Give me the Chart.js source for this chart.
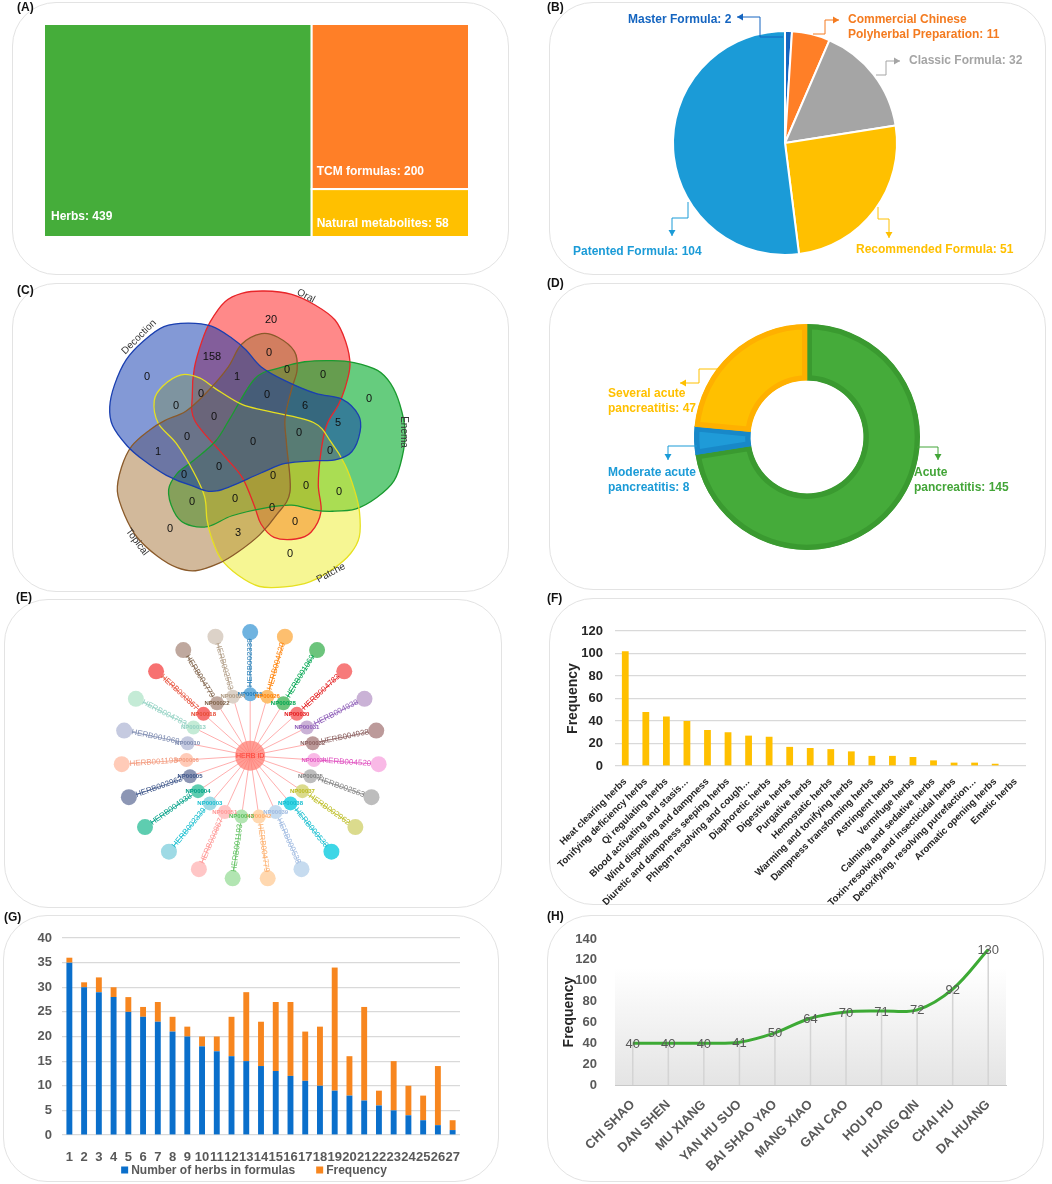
<!DOCTYPE html>
<html><head><meta charset="utf-8">
<script src="https://cdn.jsdelivr.net/npm/chart.js@4.4.1/dist/chart.umd.min.js"></script>
<style>
html,body{margin:0;padding:0;background:#fff;width:1052px;height:1184px;overflow:hidden;font-family:"Liberation Sans",Arial,sans-serif;}
.box{position:absolute;border:1.5px solid #E3E3E3;border-radius:44px;box-sizing:border-box;}
.tag{position:absolute;font:bold 12px "Liberation Sans",Arial,sans-serif;color:#111;line-height:14px;}
canvas{position:absolute;}
</style></head><body>
<script>
// ================= DATA =================
const treemapLabels = ['Herbs', 'TCM formulas', 'Natural metabolites'];
const treemapValues = [439, 200, 58];

const formulaTypes = ['Master Formula', 'Commercial Chinese Polyherbal Preparation', 'Classic Formula', 'Recommended Formula', 'Patented Formula'];
const formulaCounts = [2, 11, 32, 51, 104];

const vennSets = ['Oral', 'Enema', 'Patche', 'Topical', 'Decoction'];
const vennCounts = [20, 158, 0, 0, 0, 0, 1, 0, 0, 0, 6, 0, 5, 0, 0, 0, 0, 1, 0, 0, 0, 0, 0, 0, 0, 0, 0, 0, 0, 3, 0];

const severityLabels = ['Acute pancreatitis', 'Moderate acute pancreatitis', 'Several acute pancreatitis'];
const severityCounts = [145, 8, 47];

const networkHub = 'HERB ID';
const networkNP = ['NP00015','NP00026','NP00028','NP00030','NP00031','NP00032','NP00034','NP00035','NP00037','NP00038','NP00039','NP00042','NP00043','NP00051','NP00003','NP00004','NP00005','NP00006','NP00010','NP00013','NP00018','NP00022','NP00024'];
const networkHerbs = ['HERB002339','HERB004520','HERB001069','HERB004783','HERB004938','HERB004938','HERB004520','HERB002563','HERB002962','HERB000538','HERB000538','HERB004779','HERB001193','HERB000867','HERB002339','HERB004938','HERB002962','HERB001193','HERB001069','HERB004783','HERB000867','HERB004779','HERB002563'];

const herbCategories = ['Heat clearing herbs','Tonifying deficiency herbs','Qi regulating herbs','Blood activating and stasis\u2026','Wind dispelling and dampness','Diuretic and dampness seeping herbs','Phlegm resolving and cough\u2026','Diaphoretic herbs','Digestive herbs','Purgative herbs','Hemostatic herbs','Warming and tonifying herbs','Dampness transforming herbs','Astringent herbs','Vermifuge herbs','Calming and sedative herbs','Toxin-resolving and insecticidal herbs','Detoxifying, resolving putrefaction\u2026','Aromatic opening herbs','Emetic herbs'];
const herbCategoryFreq = [102, 48, 44, 40, 32, 30, 27, 26, 17, 16, 15, 13, 9, 9, 8, 5, 3, 3, 2, 0];

const herbCountLabels = ['1','2','3','4','5','6','7','8','9','10','11','12','13','14','15','16','17','18','19','20','21','22','23','24','25','26','27'];
const herbsInFormula = [35, 30, 29, 28, 25, 24, 23, 21, 20, 18, 17, 16, 15, 14, 13, 12, 11, 10, 9, 8, 7, 6, 5, 4, 3, 2, 1];
const formulaFrequency = [1, 1, 3, 2, 3, 2, 4, 3, 2, 2, 3, 8, 14, 9, 14, 15, 10, 12, 25, 8, 19, 3, 10, 6, 5, 12, 2];

const topHerbs = ['CHI SHAO','DAN SHEN','MU XIANG','YAN HU SUO','BAI SHAO YAO','MANG XIAO','GAN CAO','HOU PO','HUANG QIN','CHAI HU','DA HUANG'];
const topHerbFreq = [40, 40, 40, 41, 50, 64, 70, 71, 72, 92, 130];

// ================= LAYOUT / STYLE =================
const FONT = '"Liberation Sans", Arial, sans-serif';
Chart.defaults.font.family = FONT;
Chart.defaults.animation = false;
Chart.defaults.responsive = false;
Chart.defaults.plugins.legend.display = false;
Chart.defaults.plugins.tooltip.enabled = false;

const PANELS = {
  A:{l:12,t:2,w:497,h:273}, B:{l:549,t:2,w:497,h:273},
  C:{l:12,t:283,w:497,h:309}, D:{l:549,t:283,w:497,h:307},
  E:{l:4,t:599,w:498,h:309}, F:{l:549,t:598,w:497,h:307},
  G:{l:3,t:915,w:496,h:267}, H:{l:547,t:915,w:497,h:267}
};
const TAGS = {A:[17,0],B:[547,0],C:[17,283],D:[547,276],E:[16,590],F:[547,591],G:[4,910],H:[547,909]};

function makeCanvas(p){
  const b=document.createElement('div'); b.className='box';
  b.style.cssText=`left:${p.l}px;top:${p.t}px;width:${p.w}px;height:${p.h}px`;
  document.body.appendChild(b);
  const c=document.createElement('canvas'); c.width=p.w; c.height=p.h;
  c.style.cssText=`left:${p.l}px;top:${p.t}px;width:${p.w}px;height:${p.h}px`;
  document.body.appendChild(c); return c;
}
function font(sz,bold){return (bold?'bold ':'')+sz+'px '+FONT;}
function arrowPath(ctx, pts, color){
  ctx.save(); ctx.strokeStyle=color; ctx.fillStyle=color; ctx.lineWidth=1;
  ctx.beginPath(); ctx.moveTo(pts[0][0],pts[0][1]);
  for(let i=1;i<pts.length;i++) ctx.lineTo(pts[i][0],pts[i][1]);
  ctx.stroke();
  const [x1,y1]=pts[pts.length-2],[x2,y2]=pts[pts.length-1];
  const ang=Math.atan2(y2-y1,x2-x1), L=6, W=3.5;
  ctx.beginPath(); ctx.moveTo(x2,y2);
  ctx.lineTo(x2-L*Math.cos(ang)+W*Math.sin(ang), y2-L*Math.sin(ang)-W*Math.cos(ang));
  ctx.lineTo(x2-L*Math.cos(ang)-W*Math.sin(ang), y2-L*Math.sin(ang)+W*Math.cos(ang));
  ctx.closePath(); ctx.fill(); ctx.restore();
}
function splitLabel(text, n){
  if(!n) return [text];
  const w=text.split(' '); return [w.slice(0,n).join(' '), w.slice(n).join(' ')];
}

// ---------- (A) treemap ----------
const treemapColors = ['#45AD3A','#FF7F27','#FFC000'];
const treemapPlugin = {id:'treemap', afterDatasetsDraw(chart){
  const {ctx, scales:{x,y}} = chart;
  const v=treemapValues, total=v[0]+v[1]+v[2], col=v[1]+v[2];
  const rects=[
    {x0:0,x1:v[0],y0:0,y1:1, off:[7,20]},
    {x0:v[0],x1:total,y0:v[2]/col,y1:1, off:[5,17]},
    {x0:v[0],x1:total,y0:0,y1:v[2]/col, off:[5,13]}
  ];
  ctx.save();
  rects.forEach((r,i)=>{
    const L=x.getPixelForValue(r.x0), R=x.getPixelForValue(r.x1), T=y.getPixelForValue(r.y1), B=y.getPixelForValue(r.y0);
    ctx.fillStyle=treemapColors[i]; ctx.fillRect(L,T,R-L,B-T);
    ctx.strokeStyle='#fff'; ctx.lineWidth=2; ctx.strokeRect(L,T,R-L,B-T);
    ctx.fillStyle='#fff'; ctx.font=font(12,true); ctx.textBaseline='middle'; ctx.textAlign='left';
    ctx.fillText(treemapLabels[i]+': '+treemapValues[i], L+r.off[0], B-r.off[1]);
  });
  ctx.restore();
}};
new Chart(makeCanvas(PANELS.A), {type:'scatter', data:{datasets:[]},
  options:{layout:{padding:{left:32,top:22,right:40,bottom:38}},
    scales:{x:{type:'linear',display:false,min:0,max:treemapValues.reduce((a,b)=>a+b,0)}, y:{type:'linear',display:false,min:0,max:1}}},
  plugins:[treemapPlugin]});

// ---------- (B) pie ----------
const pieColors = ['#1565C0','#FF7F27','#A5A5A5','#FFC000','#1B9BD7'];
const pieText = ['#1565C0','#F47B20','#A5A5A5','#FFC000','#1B9BD7'];
const pieLabelLayout = [
  {tx:79, ty:18, split:0, path:[[234,35],[211,35],[211,15],[188,15]]},
  {tx:299, ty:18, split:2, path:[[264,32],[276,32],[276,18],[290,18]]},
  {tx:360, ty:59, split:0, path:[[327,73],[337,73],[337,59],[351,59]]},
  {tx:307, ty:248, split:0, path:[[329,205],[329,217],[340,217],[340,236]]},
  {tx:24, ty:250, split:0, path:[[139,200],[139,216],[123,216],[123,234]]}
];
const pieLabelPlugin = {id:'pieLabels', afterDatasetsDraw(chart){
  const ctx=chart.ctx; ctx.save();
  chart.data.labels.forEach((lab,i)=>{
    const L=pieLabelLayout[i];
    arrowPath(ctx, L.path, pieText[i]);
    ctx.fillStyle=pieText[i]; ctx.font=font(12,true); ctx.textBaseline='middle'; ctx.textAlign='left';
    splitLabel(lab+': '+chart.data.datasets[0].data[i], L.split).forEach((t,j)=>ctx.fillText(t, L.tx, L.ty+15*j));
  });
  ctx.restore();
}};
new Chart(makeCanvas(PANELS.B), {type:'pie',
  data:{labels:formulaTypes, datasets:[{data:formulaCounts, backgroundColor:pieColors, borderColor:'#fff', borderWidth:2}]},
  options:{layout:{padding:{left:123,right:148,top:28,bottom:19}}},
  plugins:[pieLabelPlugin]});

// ---------- (C) venn ----------
// one set outline (Oral), relative to the diagram centre; the others are the same outline turned by 72 degree steps
const VENN_CENTRE = [254, 441];
const vennOutline = [[10.3,-150],[37.7,-146.7],[61,-136],[81,-121],[91.7,-99.3],[96,-76],[91,-52.7],[84.3,-36],[72.7,-16],[67,10.7],[64.3,44],[67,70.7],[57,91.3],[41.7,98],[20,96.3],[7,83],[0.3,64.7],[-11.7,36.7],[-28.7,16],[-59,-20],[-61.7,-46],[-59.7,-72.7],[-52.3,-99.3],[-43.7,-119.3],[-29,-139.3],[-12.3,-147.7]];
const vennFill = ['rgba(255,20,20,0.5)','rgba(0,170,40,0.6)','rgba(238,238,40,0.5)','rgba(165,115,55,0.5)','rgba(7,51,173,0.5)'];
const vennStroke = ['#E8262A','#1A9A30','#E6E020','#8A5A2A','#1A3FB0'];
const vennSetLabelPos = [[306,296,28],[404,432,90],[331,573,-28],[137,542,53],[139,337,-45]];
const vennCountPos = [[271,320],[212,357],[147,377],[269,353],[287,370],[323,375],[237,377],[201,394],[176,406],[267,395],[305,406],[369,399],[338,423],[214,417],[187,437],[299,433],[253,442],[158,452],[330,451],[219,467],[184,475],[273,476],[306,486],[339,492],[192,502],[235,499],[272,508],[295,522],[170,529],[238,533],[290,554]];
function vennShapePath(ctx, x, y, k){
  const th=k*72*Math.PI/180, c=Math.cos(th), s=Math.sin(th);
  const P=vennOutline.map(([u,v])=>[x.getPixelForValue(VENN_CENTRE[0]+u*c-v*s), y.getPixelForValue(VENN_CENTRE[1]+u*s+v*c)]);
  const n=P.length;
  ctx.beginPath(); ctx.moveTo(P[0][0],P[0][1]);
  for(let i=0;i<n;i++){
    const p0=P[(i-1+n)%n], p1=P[i], p2=P[(i+1)%n], p3=P[(i+2)%n];
    ctx.bezierCurveTo(p1[0]+(p2[0]-p0[0])/6, p1[1]+(p2[1]-p0[1])/6, p2[0]-(p3[0]-p1[0])/6, p2[1]-(p3[1]-p1[1])/6, p2[0], p2[1]);
  }
  ctx.closePath();
}
const vennPlugin = {id:'venn', afterDatasetsDraw(chart){
  const {ctx, scales:{x,y}} = chart; ctx.save();
  vennSets.forEach((_,k)=>{ vennShapePath(ctx,x,y,k); ctx.fillStyle=vennFill[k]; ctx.fill(); });
  vennSets.forEach((_,k)=>{ vennShapePath(ctx,x,y,k); ctx.strokeStyle=vennStroke[k]; ctx.lineWidth=1.3; ctx.stroke(); });
  ctx.fillStyle='#111'; ctx.font=font(11,false); ctx.textAlign='center'; ctx.textBaseline='middle';
  vennCounts.forEach((v,i)=>ctx.fillText(String(v), x.getPixelForValue(vennCountPos[i][0]), y.getPixelForValue(vennCountPos[i][1])));
  ctx.fillStyle='#333'; ctx.font=font(10,false);
  vennSets.forEach((s,k)=>{ const p=vennSetLabelPos[k]; ctx.save(); ctx.translate(x.getPixelForValue(p[0]), y.getPixelForValue(p[1])); ctx.rotate(p[2]*Math.PI/180); ctx.fillText(s,0,0); ctx.restore(); });
  ctx.restore();
}};
new Chart(makeCanvas(PANELS.C), {type:'scatter', data:{datasets:[]},
  options:{layout:{padding:0}, scales:{x:{type:'linear',display:false,min:PANELS.C.l,max:PANELS.C.l+PANELS.C.w}, y:{type:'linear',display:false,min:PANELS.C.t,max:PANELS.C.t+PANELS.C.h,reverse:true}}},
  plugins:[vennPlugin]});

// ---------- (D) doughnut ----------
const donutFill = ['#45AB3A','#1F9BD8','#FFC000'];
const donutBorder = ['#3A9A30','#1888C8','#FFB000'];
const donutText = ['#43A538','#1B9BD7','#FFC000'];
const donutLabelLayout = [
  {tx:365, ty:190, split:1, path:[[368,164],[389,164],[389,177]]},
  {tx:59, ty:190, split:2, path:[[148,163],[119,163],[119,177]]},
  {tx:59, ty:111, split:2, path:[[169,86],[150,86],[150,100],[131,100]]}
];
const donutLabelPlugin = {id:'donutLabels', afterDatasetsDraw(chart){
  const ctx=chart.ctx; ctx.save();
  chart.data.labels.forEach((lab,i)=>{
    const L=donutLabelLayout[i];
    arrowPath(ctx, L.path, donutText[i]);
    ctx.fillStyle=donutText[i]; ctx.font=font(12,true); ctx.textBaseline='middle'; ctx.textAlign='left';
    splitLabel(lab+': '+chart.data.datasets[0].data[i], L.split).forEach((t,j)=>ctx.fillText(t, L.tx, L.ty+15*j));
  });
  ctx.restore();
}};
new Chart(makeCanvas(PANELS.D), {type:'doughnut',
  data:{labels:severityLabels, datasets:[{data:severityCounts, backgroundColor:donutFill, borderColor:donutBorder, borderWidth:5, borderAlign:'inner'}]},
  options:{cutout:'50%', layout:{padding:{left:145,top:41,right:126,bottom:40}}},
  plugins:[donutLabelPlugin]});

// ---------- (E) network ----------
const NET = {rIn:68, rOut:137, rLabel:103, nodeIn:7, nodeOut:8, hub:15};
const nodeFill = ['#6FB3E0','#FDBF6F','#6CC47C','#F77B7B','#CAB2D6','#BC9A9A','#F9B9E6','#BDBDBD','#DBDB8D','#3DD6E6','#C6DBEF','#FFD8B0','#B2E5B2','#FFC6C6','#9EDAE5','#5ECDB0','#8C96B4','#FFCBB8','#C5CAE0','#C4EBD6','#F77171','#BFA89E','#DCD2C8'];
const nodeInk = ['#1F78B4','#FF7F00','#00A651','#E31A1C','#8E5DB8','#8C6060','#E052C0','#808080','#BCBD22','#17BECF','#9EB9E0','#FDAE6B','#5CBF5C','#FF9896','#17BECF','#00A087','#3C5488','#F39B7F','#7E8BB0','#91D1C2','#E64B35','#7E6148','#B09C85'];
function netPos(r,k){ const a=k*2*Math.PI/networkNP.length; return {x:r*Math.sin(a), y:r*Math.cos(a)}; }
const netPoints = [{x:0,y:0}].concat(networkNP.map((_,k)=>netPos(NET.rIn,k)), networkHerbs.map((_,k)=>netPos(NET.rOut,k)));
const netColors = ['rgba(255,125,115,0.75)'].concat(nodeFill, nodeFill);
const netRadii = [NET.hub].concat(networkNP.map(()=>NET.nodeIn), networkHerbs.map(()=>NET.nodeOut));
const netPlugin = {id:'net',
  beforeDatasetsDraw(chart){
    const {ctx, scales:{x,y}} = chart; ctx.save();
    const cx=x.getPixelForValue(0), cy=y.getPixelForValue(0);
    networkNP.forEach((_,k)=>{
      const pi=netPos(NET.rIn,k), po=netPos(NET.rOut,k);
      ctx.strokeStyle='rgba(255,160,160,0.85)'; ctx.lineWidth=1;
      ctx.beginPath(); ctx.moveTo(cx,cy); ctx.lineTo(x.getPixelForValue(pi.x), y.getPixelForValue(pi.y)); ctx.stroke();
      ctx.strokeStyle=nodeInk[k]; ctx.lineWidth=0.8;
      ctx.beginPath(); ctx.moveTo(x.getPixelForValue(pi.x), y.getPixelForValue(pi.y)); ctx.lineTo(x.getPixelForValue(po.x), y.getPixelForValue(po.y)); ctx.stroke();
    });
    ctx.restore();
  },
  afterDatasetsDraw(chart){
    const {ctx, scales:{x,y}} = chart; ctx.save();
    const n=networkNP.length; ctx.textAlign='center'; ctx.textBaseline='middle';
    networkHerbs.forEach((h,k)=>{
      const a=k*2*Math.PI/n; const p=netPos(NET.rLabel,k);
      let rot=a-Math.PI/2; if(rot>Math.PI/2+1e-6) rot-=Math.PI;
      ctx.save(); ctx.translate(x.getPixelForValue(p.x), y.getPixelForValue(p.y)); ctx.rotate(rot);
      ctx.fillStyle=nodeInk[k]; ctx.font=font(8,false); ctx.fillText(h,0,0); ctx.restore();
    });
    networkNP.forEach((np,k)=>{
      const p=netPos(NET.rIn,k);
      ctx.fillStyle=nodeInk[k]; ctx.font=font(6,true); ctx.fillText(np, x.getPixelForValue(p.x), y.getPixelForValue(p.y));
    });
    ctx.fillStyle='#FF3B30'; ctx.font=font(7,false); ctx.fillText(networkHub, x.getPixelForValue(0), y.getPixelForValue(0));
    ctx.restore();
  }};
new Chart(makeCanvas(PANELS.E), {type:'scatter',
  data:{datasets:[{data:netPoints, backgroundColor:netColors, pointRadius:netRadii, pointBorderWidth:0, pointHoverRadius:netRadii}]},
  options:{layout:{padding:0}, scales:{x:{type:'linear',display:false,min:-246,max:252}, y:{type:'linear',display:false,min:-152,max:157}}},
  plugins:[netPlugin]});

// ---------- (F) bar ----------
new Chart(makeCanvas(PANELS.F), {type:'bar',
  data:{labels:herbCategories, datasets:[{data:herbCategoryFreq, backgroundColor:'#FFC000', barPercentage:0.33, categoryPercentage:1}]},
  options:{layout:{padding:{left:6,right:20,top:33,bottom:0}},
    scales:{
      x:{grid:{display:false}, border:{display:false}, ticks:{autoSkip:false,maxRotation:45,minRotation:45,font:{size:9.7,weight:'bold'},color:'#262626',padding:2}, afterFit(s){s.height=139;}},
      y:{min:0,max:120, ticks:{stepSize:20,font:{size:13,weight:'bold'},color:'#262626',padding:12}, grid:{color:'#D9D9D9',drawTicks:false,lineWidth:1.2}, border:{display:false},
         title:{display:true,text:'Frequency',font:{size:14,weight:'bold'},color:'#262626',padding:{top:10,bottom:0}}, afterFit(s){s.width=60;}}
    }}});

// ---------- (G) stacked bar ----------
const gColors = ['#0A6FCB','#F7861F'];
const gLegendPlugin = {id:'gLegend', afterDraw(chart){
  const ctx=chart.ctx; ctx.save(); ctx.font=font(12,true); ctx.textBaseline='middle'; ctx.textAlign='left';
  const ds=chart.data.datasets, box=7, gap=3, sep=21, cy=255;
  const widths=ds.map(d=>box+gap+ctx.measureText(d.label).width);
  let xx=251-(widths.reduce((a,b)=>a+b,0)+sep*(ds.length-1))/2;
  ds.forEach((d,i)=>{ ctx.fillStyle=d.backgroundColor; ctx.fillRect(xx,cy-box/2,box,box); ctx.fillStyle='#595959'; ctx.fillText(d.label,xx+box+gap,cy+0.5); xx+=widths[i]+sep; });
  ctx.restore();
}};
new Chart(makeCanvas(PANELS.G), {type:'bar',
  data:{labels:herbCountLabels, datasets:[
    {label:'Number of herbs in formulas', data:herbsInFormula, backgroundColor:gColors[0], barPercentage:0.4, categoryPercentage:1},
    {label:'Frequency', data:formulaFrequency, backgroundColor:gColors[1], barPercentage:0.4, categoryPercentage:1}]},
  options:{layout:{padding:{left:6,right:39,top:23,bottom:0}},
    scales:{
      x:{stacked:true, grid:{display:false}, border:{display:false}, ticks:{autoSkip:false,maxRotation:0,minRotation:0,font:{size:13,weight:'bold'},color:'#595959',padding:7}, afterFit(s){s.height=47;}},
      y:{stacked:true,min:0,max:40, ticks:{stepSize:5,font:{size:13,weight:'bold'},color:'#595959',padding:10}, grid:{color:'#D9D9D9',drawTicks:false,lineWidth:1.2}, border:{display:false}, afterFit(s){s.width=53;}}
    }},
  plugins:[gLegendPlugin]});

// ---------- (H) line ----------
const hPlugin = {id:'hDecor',
  beforeDraw(chart){
    const {ctx, chartArea:ca} = chart; ctx.save();
    const top=ca.top+(ca.bottom-ca.top)*0.2;
    const g=ctx.createLinearGradient(0,top,0,ca.bottom); g.addColorStop(0,'rgba(255,255,255,1)'); g.addColorStop(1,'#E4E4E4');
    ctx.fillStyle=g; ctx.fillRect(ca.left,top,ca.right-ca.left,ca.bottom-top); ctx.restore();
  },
  beforeDatasetsDraw(chart){
    const ctx=chart.ctx, ca=chart.chartArea; ctx.save(); ctx.strokeStyle='#D4D4D4'; ctx.lineWidth=1.5;
    chart.getDatasetMeta(0).data.forEach(p=>{ ctx.beginPath(); ctx.moveTo(p.x,p.y); ctx.lineTo(p.x,ca.bottom); ctx.stroke(); });
    ctx.restore();
  },
  afterDatasetsDraw(chart){
    const ctx=chart.ctx; ctx.save(); ctx.fillStyle='#595959'; ctx.font=font(13,false); ctx.textAlign='center'; ctx.textBaseline='middle';
    chart.getDatasetMeta(0).data.forEach((p,i)=>ctx.fillText(String(chart.data.datasets[0].data[i]), p.x, p.y+1));
    ctx.restore();
  }};
new Chart(makeCanvas(PANELS.H), {type:'line',
  data:{labels:topHerbs, datasets:[{data:topHerbFreq, borderColor:'#3DAA35', borderWidth:3, pointRadius:0, tension:0.35, fill:false}]},
  options:{layout:{padding:{left:6,right:38,top:24,bottom:0}},
    scales:{
      x:{offset:true, grid:{display:false}, border:{display:true,color:'#C8C8C8',width:1}, ticks:{autoSkip:false,maxRotation:45,minRotation:45,font:{size:13,weight:'bold'},color:'#595959',padding:4}, afterFit(s){s.height=97;}},
      y:{min:0,max:140, ticks:{stepSize:20,font:{size:13,weight:'bold'},color:'#595959',padding:10}, grid:{display:false}, border:{display:false},
         title:{display:true,text:'Frequency',font:{size:14,weight:'bold'},color:'#262626',padding:{top:8,bottom:0}}, afterFit(s){s.width=62;}}
    }},
  plugins:[hPlugin]});

// ---------- panel tags ----------
Object.keys(TAGS).forEach(k=>{ const d=document.createElement('div'); d.className='tag'; d.textContent='('+k+')'; d.style.left=TAGS[k][0]+'px'; d.style.top=TAGS[k][1]+'px'; document.body.appendChild(d); });
</script>
</body></html>
